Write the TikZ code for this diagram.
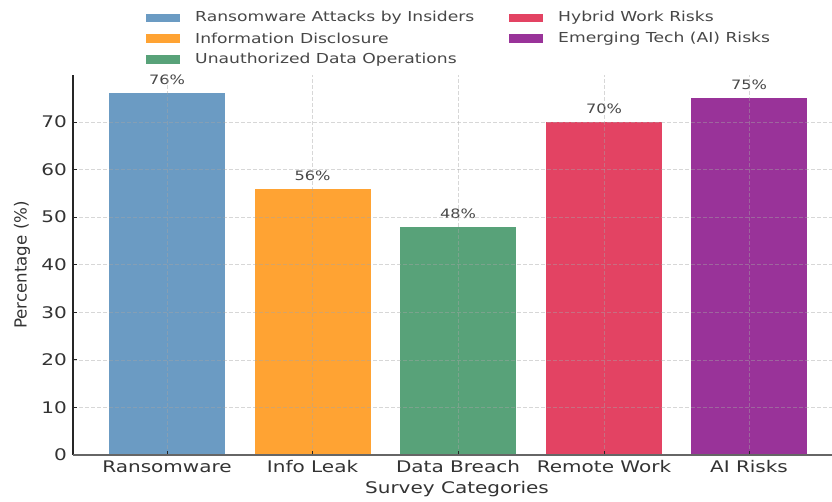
\documentclass[tikz,border=0pt]{standalone}
\usepackage{fontspec}
\setmainfont{DejaVu Sans}[FakeStretch=1.25]
\newfontfamily\ylabelfont{DejaVu Sans}
\usetikzlibrary{positioning}

\definecolor{ransomBlue}{HTML}{6B9BC3}
\definecolor{leakOrange}{HTML}{FFA333}
\definecolor{breachGreen}{HTML}{58A279}
\definecolor{remoteRed}{HTML}{E34363}
\definecolor{aiPurple}{HTML}{993399}
\definecolor{labelGray}{HTML}{333333}

\tikzset{
  bar/.style={draw=none, minimum width=87pt, anchor=south, inner sep=0pt, outer sep=0pt},
  barvalue/.style={font=\fontsize{9.7}{11}\selectfont, text=labelGray!90, inner sep=0pt},
  gridline/.style={gray!70, opacity=0.45, line width=0.5pt, dash pattern=on 3pt off 1.5pt},
  ticklabel/.style={font=\fontsize{12}{14}\selectfont, text=labelGray, inner sep=0pt},
  legendpatch/.style={minimum width=25.5pt, minimum height=6.5pt, inner sep=0pt},
  legendtext/.style={font=\fontsize{10.3}{12}\selectfont, text=labelGray!90, anchor=west, inner sep=0pt}
}

\begin{document}
\begin{tikzpicture}[x=0.75pt, y=-0.75pt]
        \useasboundingbox (0,0) rectangle (832,502);
        % bars
        \node[bar, fill=ransomBlue, minimum height={76*3.568pt}] (ransomBar) at (167,455) {};
        \node[bar, fill=leakOrange, minimum height={56*3.568pt}] (leakBar) at (312.5,455) {};
        \node[bar, fill=breachGreen, minimum height={48*3.568pt}] (breachBar) at (458,455) {};
        \node[bar, fill=remoteRed, minimum height={70*3.568pt}] (remoteBar) at (604,455) {};
        \node[bar, fill=aiPurple, minimum height={75*3.568pt}] (aiBar) at (749,455) {};
        \node[barvalue, above=6pt of ransomBar] (ransomValue) {76\%};
        \node[barvalue, above=6pt of leakBar] (leakValue) {56\%};
        \node[barvalue, above=6pt of breachBar] (breachValue) {48\%};
        \node[barvalue, above=6pt of remoteBar] (remoteValue) {70\%};
        \node[barvalue, above=6pt of aiBar] (aiValue) {75\%};
        % grid
        \coordinate (yTop) at (73,75);
        \coordinate (xRight) at (832,455);
        \foreach \k [evaluate=\k as \yy using 455-\k*47.57, evaluate=\k as \val using int(10*\k)] in {0,...,7} {
          \ifnum\k>0 \draw[gridline] (73,\yy) -- (832,\yy); \fi
          \draw[black!85, line width=0.6pt] (73,\yy) -- (77,\yy);
          \node[ticklabel, anchor=east] (ytick\k) at (67,\yy) {\val};
        }
        \foreach \b in {ransomBar, leakBar, breachBar, remoteBar, aiBar} {
          \draw[gridline] (\b.south) -- (\b.south |- yTop);
          \draw[black!85, line width=0.6pt] (\b.south) -- ++(0,-4);
        }
        % axes
        \draw[black!85, line width=0.8pt] (73,455) -- (yTop);
        \draw[black!60, line width=0.8pt] (73,455) -- (xRight);
        % labels
        \node[ticklabel] (ransomTick) at (167,467) {Ransomware};
        \node[ticklabel] (leakTick) at (312.5,467) {Info Leak};
        \node[ticklabel] (breachTick) at (458,467) {Data Breach};
        \node[ticklabel] (remoteTick) at (604,467) {Remote Work};
        \node[ticklabel] (aiTick) at (749,467) {AI Risks};
        \node[ticklabel] (xLabel) at (457,489) {Survey Categories};
        \node[rotate=90, font=\ylabelfont\fontsize{12.5}{14}\selectfont, text=labelGray, inner sep=0pt] (yLabel) at (22,265) {Percentage (\%)};
        % legend
        \node[legendpatch, fill=ransomBlue] (ransomPatch) at (163,18) {};
        \node[legendpatch, fill=leakOrange] (leakPatch) at (163,38.5) {};
        \node[legendpatch, fill=breachGreen] (breachPatch) at (163,59.5) {};
        \node[legendpatch, fill=remoteRed] (remotePatch) at (526,18) {};
        \node[legendpatch, fill=aiPurple] (aiPatch) at (526,38.5) {};
        \node[legendtext, right=11pt of ransomPatch] (ransomEntry) {Ransomware Attacks by Insiders};
        \node[legendtext, right=11pt of leakPatch] (leakEntry) {Information Disclosure};
        \node[legendtext, right=11pt of breachPatch] (breachEntry) {Unauthorized Data Operations};
        \node[legendtext, right=11pt of remotePatch] (remoteEntry) {Hybrid Work Risks};
        \node[legendtext, right=11pt of aiPatch] (aiEntry) {Emerging Tech (AI) Risks};
      \end{tikzpicture}
\end{document}
